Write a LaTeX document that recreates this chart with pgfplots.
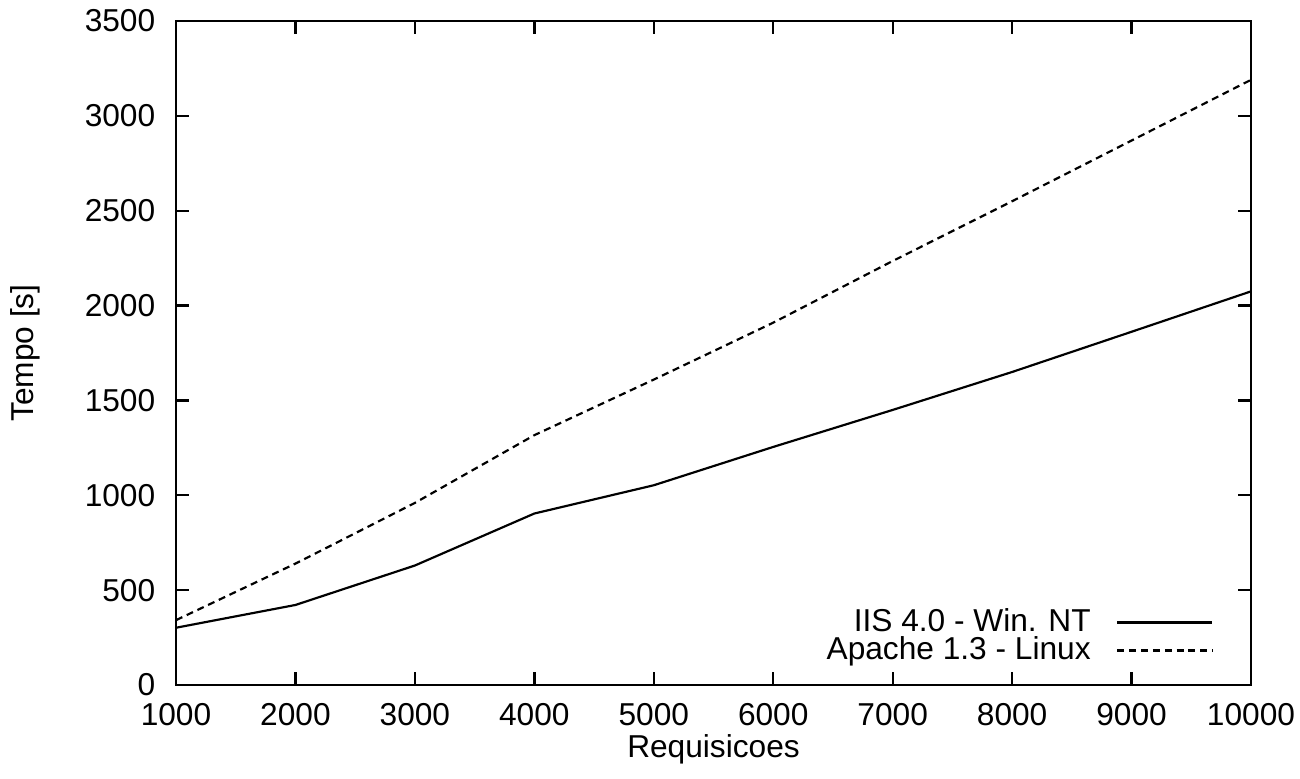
\documentclass[border=0pt]{standalone}
\usepackage{fontspec}
\setmainfont{Liberation Sans}
\usepackage{pgfplots}
\pgfplotsset{compat=1.18}

\begin{document}
\begin{tikzpicture}
\begin{axis}[
  scale only axis,
  width=322.5pt, height=199.2pt,
  xmin=1000, xmax=10000, ymin=0, ymax=3500,
  xtick={1000,2000,...,10000},
  ytick={0,500,...,3500},
  scaled ticks=false,
  tick align=inside,
  major tick length=3.8pt,
  tick style={line width=0.7pt, black},
  axis line style={line width=0.8pt},
  font=\fontsize{9.5}{11.5}\selectfont,
  /pgf/number format/assume math mode=true,
  /pgf/number format/1000 sep={},
  tick label style={font=\fontsize{9.5}{11.5}\selectfont},
  xticklabel style={yshift=-2pt},
  yticklabel style={xshift=-2.7pt},
  xlabel={Requisicoes},
  ylabel={Tempo [s]},
  xlabel style={at={(axis description cs:0.5,-0.097)}, anchor=center},
  ylabel style={at={(axis description cs:-0.1405,0.5)}, anchor=center},
  legend plot pos=right,
  legend cell align=right,
  legend image code/.code={\path (0cm,0cm); \draw[#1] (0.2cm,0cm) -- (1.2cm,0cm);},
  legend style={at={(rel axis cs:0.9656,0.02)}, anchor=south east,
    draw=none, fill=none, inner sep=0pt, row sep=-4pt,
    font=\fontsize{9.5}{11.5}\selectfont},
]
\addplot[black, line width=0.65pt] coordinates {
  (1000,302) (2000,422) (3000,630) (4000,904) (5000,1053)
  (6000,1255) (7000,1450) (8000,1650) (9000,1862) (10000,2075)
};
\addlegendentry{IIS 4.0 - Win. NT}
\addplot[black, line width=0.65pt, dash pattern=on 2.1pt off 1.45pt] coordinates {
  (1000,342) (2000,640) (3000,960) (4000,1317) (5000,1610)
  (6000,1910) (7000,2235) (8000,2550) (9000,2870) (10000,3190)
};
\addlegendentry{Apache 1.3 - Linux}
\coordinate (bl) at (rel axis cs:0,0);
\coordinate (tr) at (rel axis cs:1,1);
\end{axis}
\pgfresetboundingbox
\path[use as bounding box] ([xshift=-52.8pt,yshift=-27.9pt]bl) rectangle ([xshift=14.7pt,yshift=6.3pt]tr);
\end{tikzpicture}
\end{document}
